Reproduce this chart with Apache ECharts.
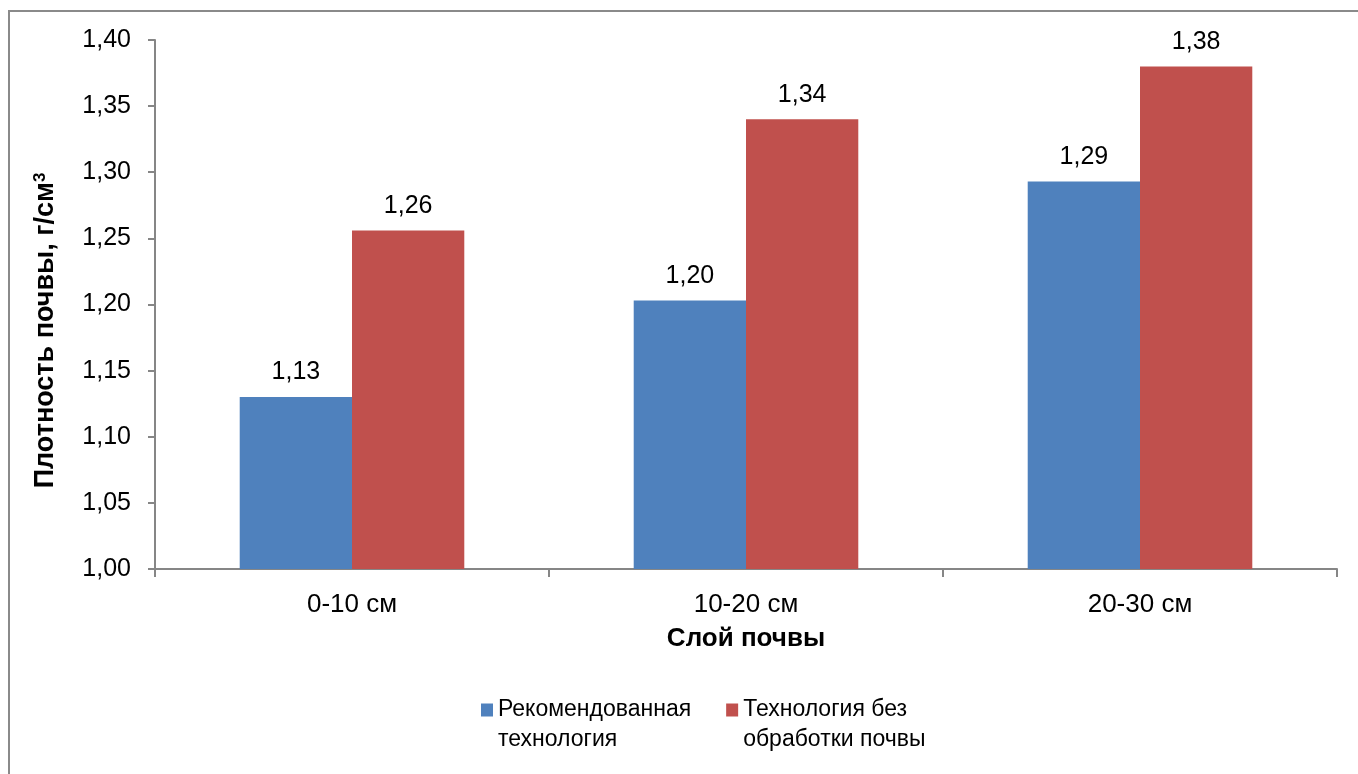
<!DOCTYPE html>
<html>
<head>
<meta charset="utf-8">
<script src="https://cdn.jsdelivr.net/npm/echarts@6/dist/echarts.min.js"></script>
<style>html,body{margin:0;padding:0;background:#fff;}#main{width:1358px;height:774px;}</style>
</head>
<body>
<div id="main"></div>
<script>
var categories = ['0-10 см', '10-20 см', '20-30 см'];
var seriesNames = ['Рекомендованная\nтехнология', 'Технология без\nобработки почвы'];
var recommended = [1.13, 1.203, 1.293];
var noTillage = [1.256, 1.34, 1.38];
var yTicks = [1.00, 1.05, 1.10, 1.15, 1.20, 1.25, 1.30, 1.35, 1.40];

var font = 'Liberation Sans, Arial, sans-serif';
function fmt(v) { return Number(v).toFixed(2).replace('.', ','); }

var chart = echarts.init(document.getElementById('main'));
chart.setOption({
  animation: false,
  backgroundColor: '#fff',
  graphic: [{
    type: 'rect', silent: true, z: -1,
    shape: { x: 9, y: 11, width: 1420, height: 820 },
    style: { fill: 'none', stroke: '#8a8a8a', lineWidth: 2 }
  }],
  grid: { left: 155, right: 21, top: 40, bottom: 205, containLabel: false },
  legend: {
    left: 476, top: 670,
    itemWidth: 12, itemHeight: 13, itemGap: 35,
    icon: 'rect',
    formatter: function (name) {
      var parts = name.split('\n');
      return '{s| }\n{t|' + parts[0] + '}\n{t|' + parts[1] + '}';
    },
    textStyle: {
      fontFamily: font, fontSize: 23, color: '#000',
      rich: {
        s: { fontSize: 10, lineHeight: 30 },
        t: { fontFamily: font, fontSize: 23, color: '#000', lineHeight: 30 }
      }
    },
    data: seriesNames
  },
  xAxis: {
    type: 'category',
    data: categories,
    name: 'Слой почвы',
    nameLocation: 'middle',
    nameGap: 57,
    nameTextStyle: { fontFamily: font, fontSize: 26, fontWeight: 'bold', color: '#000' },
    axisLine: { lineStyle: { color: '#868686', width: 2 } },
    axisTick: { show: true, length: 8, lineStyle: { color: '#868686', width: 2 } },
    axisLabel: { fontFamily: font, fontSize: 26, color: '#000', margin: 23 },
    splitLine: { show: false }
  },
  yAxis: {
    type: 'value',
    min: 1.00, max: 1.40, interval: 0.05,
    name: 'Плотность почвы, г/см{sup|3}',
    nameLocation: 'middle',
    nameGap: 96,
    nameTextStyle: {
      fontFamily: font, fontSize: 27, fontWeight: 'bold', color: '#000',
      padding: [0, 52, 0, 0],
      rich: {
        sup: { fontFamily: font, fontSize: 17, fontWeight: 'bold', color: '#000', verticalAlign: 'top', padding: [0, 0, 10, 0] }
      }
    },
    axisLine: { show: true, lineStyle: { color: '#868686', width: 2 } },
    axisTick: { show: true, length: 7, lineStyle: { color: '#868686', width: 2 } },
    axisLabel: {
      fontFamily: font, fontSize: 25, color: '#000', margin: 24,
      formatter: function (v) {
        var t = yTicks.find(function (x) { return Math.abs(x - v) < 1e-6; });
        return t !== undefined ? fmt(t) : '';
      }
    },
    splitLine: { show: false }
  },
  series: [
    {
      name: seriesNames[0], type: 'bar', data: recommended,
      barGap: '0%', barCategoryGap: '43%',
      itemStyle: { color: '#4F81BD' },
      label: { show: true, position: 'top', distance: 12, fontFamily: font, fontSize: 25, color: '#000', formatter: function (p) { return fmt(p.value); } }
    },
    {
      name: seriesNames[1], type: 'bar', data: noTillage,
      barGap: '0%', barCategoryGap: '43%',
      itemStyle: { color: '#C0504D' },
      label: { show: true, position: 'top', distance: 12, fontFamily: font, fontSize: 25, color: '#000', formatter: function (p) { return fmt(p.value); } }
    }
  ]
});
</script>
</body>
</html>
